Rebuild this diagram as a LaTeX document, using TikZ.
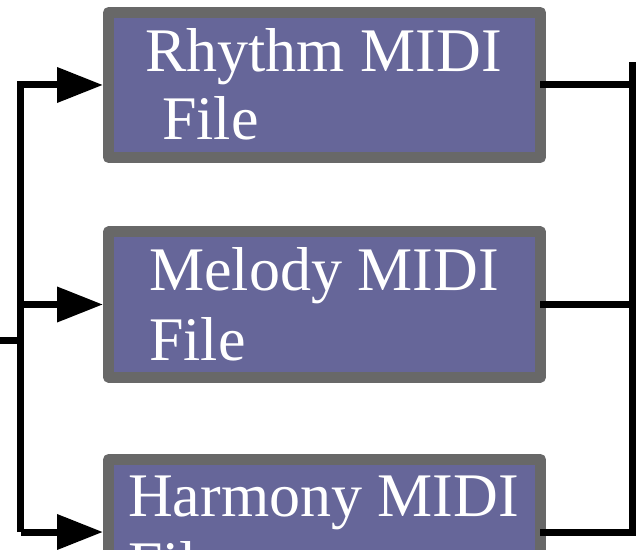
\documentclass[tikz,border=0pt]{standalone}
\usepackage{fontspec}
\setmainfont{Liberation Serif}
\usetikzlibrary{arrows.meta}
\definecolor{boxfill}{HTML}{666699}
\definecolor{boxline}{HTML}{686868}
\tikzset{
  filebox/.style={rectangle, fill=boxfill, draw=boxline, line width=11pt, line join=round,
    minimum width=432pt, minimum height=145pt, inner sep=0pt, outer sep=5.5pt},
  lbl/.style={anchor=base west, inner sep=0pt, text=white, font=\fontsize{62}{68}\selectfont},
  conn/.style={draw=black, line width=7pt, line join=miter},
  arr/.style={conn, -{Triangle[length=46pt,width=34pt]}}
}
\begin{document}
\begin{tikzpicture}[x=1pt,y=1pt]
\useasboundingbox (0,0) rectangle (636,549);
\clip (0,0) rectangle (636,549);
% boxes
\node[filebox] (r) at (324.5,464) {};
\node[filebox] (m) at (324.5,244.5) {};
\node[filebox] (h) at (324.5,17) {};
% labels
\node[lbl] (r1) at (145,477) {Rhythm MIDI};
\node[lbl] (r2) at (162,409) {File};
\node[lbl] (m1) at (149,258) {Melody MIDI};
\node[lbl] (m2) at (149,189) {File};
\node[lbl] (h1) at (128,33) {Harmony MIDI};
\node[lbl] (h2) at (128,-35) {File};
% coordinates
\coordinate (busx) at (20.5,0);
\coordinate (inp) at (0,209);
\coordinate (rbx) at (632,0);
\coordinate (rtop) at (632,487);
% left side
\draw[arr] (h.west -| busx) -- (r.west -| busx) -- (r.west);
\draw[arr] (m.west -| busx) -- (m.west);
\draw[arr] (h.west -| busx) -- (h.west);
\draw[conn] (inp) -- (inp -| busx);
% right side
\draw[conn] ([xshift=-6pt]h.east) -- (h.east -| rbx) -- (rtop);
\draw[conn] ([xshift=-6pt]r.east) -- (r.east -| rbx);
\draw[conn] ([xshift=-6pt]m.east) -- (m.east -| rbx);
\end{tikzpicture}
\end{document}
